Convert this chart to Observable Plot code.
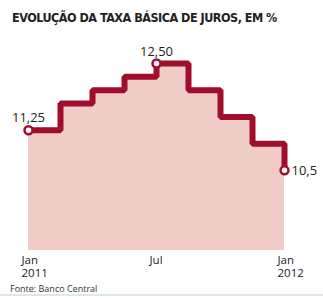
<!DOCTYPE html>
<html>
<head>
<meta charset="utf-8">
<script src="https://cdn.jsdelivr.net/npm/d3@7"></script>
<script src="https://cdn.jsdelivr.net/npm/@observablehq/plot@0.6"></script>
<style>
  body { margin: 0; background: #fff; }
  #wrap { position: relative; width: 323px; height: 298px; overflow: hidden; }
  #title { position: absolute; left: 12px; top: 10px; line-height: 15px; letter-spacing: -0.5px;
           font: bold 12.5px "DejaVu Sans Condensed", "DejaVu Sans", sans-serif; font-stretch: condensed;
           color: #222; white-space: nowrap; }
  #chart { position: absolute; left: 0; top: 30px; }
  #caption { position: absolute; left: 10px; top: 282px; line-height: 12px;
             font: 9px "Open Sans", sans-serif; color: #333; }
  #rule { position: absolute; left: 0; right: 0; top: 294px; height: 2px; background: #dde8ea; }
</style>
</head>
<body>
<div id="wrap">
  <div id="title">EVOLUÇÃO DA TAXA BÁSICA DE JUROS, EM %</div>
  <div id="chart"></div>
  <div id="caption">Fonte: Banco Central</div>
  <div id="rule"></div>
</div>
<script>
// Copom meetings, Jan 2011 – Jan 2012, and the Selic target set at each (%)
const meetings = ["Jan 2011", "Mar 2011", "Abr 2011", "Jun 2011", "Jul 2011", "Ago 2011", "Out 2011", "Nov 2011", "Jan 2012"];
const selic = [11.25, 11.75, 12.00, 12.25, 12.50, 12.00, 11.50, 11.00, 10.50];

// Axis ticks and their labels
const tickMeetings = ["Jan 2011", "Jul 2011", "Jan 2012"];
const tickLabels = ["Jan\n2011", "Jul", "Jan\n2012"];

// Highlighted meetings and how many decimals each label shows
const highlightMeetings = ["Jan 2011", "Jul 2011", "Jan 2012"];
const highlightDecimals = [2, 2, 1];

const floor = 9;
const red = "#a10d2c";

const data = meetings.map((m, i) => ({m, v: selic[i]}));
const highlights = highlightMeetings.map((m, k) => {
  const v = selic[meetings.indexOf(m)];
  return {m, v, label: v.toFixed(highlightDecimals[k]).replace(".", ","), side: k === 2 ? "right" : "top"};
});

const chart = Plot.plot({
  width: 323,
  height: 252,
  marginTop: 33,
  marginBottom: 32,
  marginLeft: 25,
  marginRight: 37,
  style: {fontFamily: "'Open Sans', sans-serif", background: "transparent", overflow: "visible"},
  x: {type: "point", domain: meetings, padding: 0, axis: null},
  y: {domain: [floor, 12.5], axis: null},
  marks: [
    Plot.areaY(data, {x: "m", y1: floor, y2: "v", curve: "step-after", fill: "#f0cdc7"}),
    Plot.line(data, {x: "m", y: "v", curve: "step-after", stroke: red, strokeWidth: 6,
                     strokeLinejoin: "miter", strokeLinecap: "butt"}),
    Plot.dot(highlights, {x: "m", y: "v", r: 4, fill: "white", stroke: red, strokeWidth: 2.5}),
    Plot.text(highlights.filter(d => d.side === "top"), {x: "m", y: "v", text: "label", dy: -12,
              fontSize: 13, fill: "#222", textAnchor: "middle"}),
    Plot.text(highlights.filter(d => d.side === "right"), {x: "m", y: "v", text: "label", dx: 7,
              fontSize: 13, fill: "#222", textAnchor: "start"}),
    Plot.axisX(tickMeetings, {tickSize: 0, tickPadding: 4, textAnchor: "start", dx: -7,
              lineAnchor: "top", lineHeight: 1.12, fontSize: 11.5, fill: "#222", label: null,
              tickFormat: d => tickLabels[tickMeetings.indexOf(d)]})
  ]
});
document.getElementById("chart").appendChild(chart);
</script>
</body>
</html>
